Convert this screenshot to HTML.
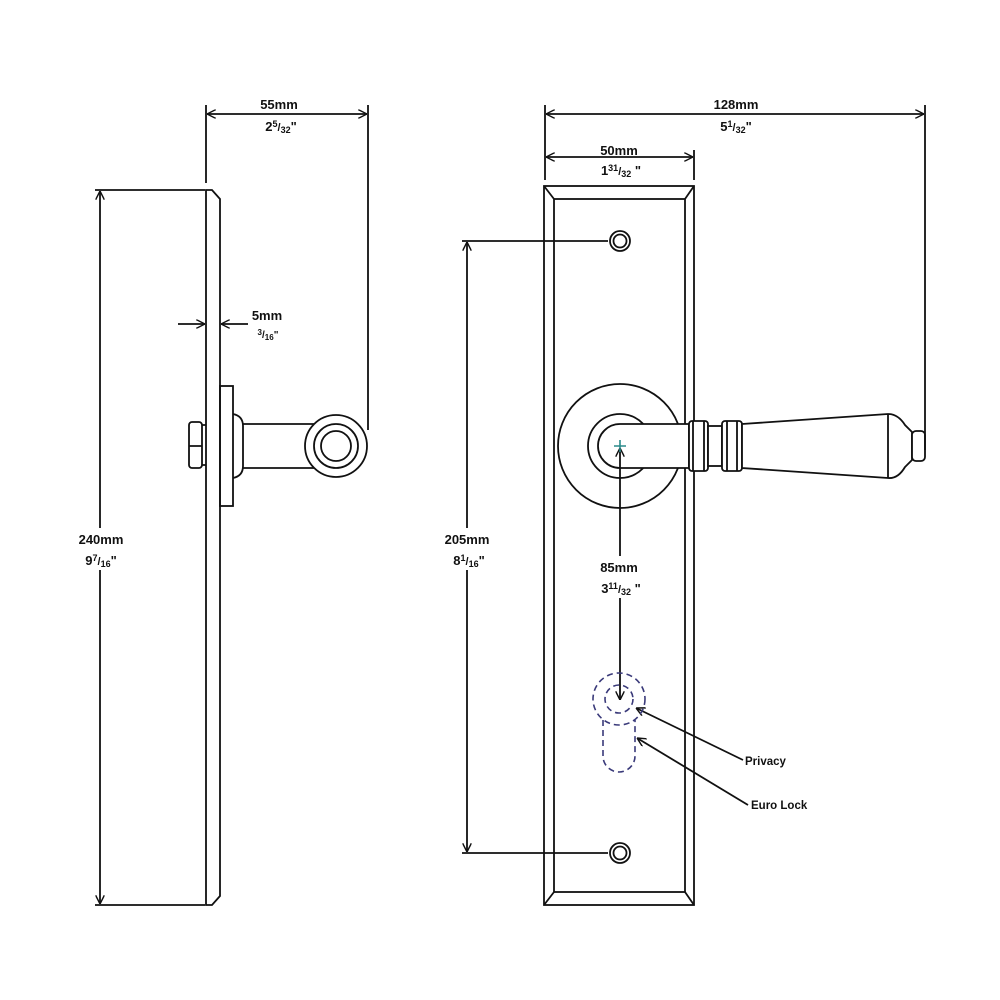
<!DOCTYPE html>
<html><head><meta charset="utf-8"><style>
html,body{margin:0;padding:0;background:#fff}
svg{display:block}
text{font-family:"Liberation Sans",sans-serif;font-weight:bold;fill:#111}
</style></head><body>
<svg width="1000" height="1000" viewBox="0 0 1000 1000" xmlns="http://www.w3.org/2000/svg">
<defs>
<marker id="a" viewBox="0 0 10 10" refX="10" refY="5" markerWidth="9" markerHeight="9" orient="auto-start-reverse" markerUnits="userSpaceOnUse">
<path d="M0,0 L10,5 L0,10" fill="none" stroke="#111" stroke-width="1.6"/></marker>
</defs>
<g fill="none" stroke="#111" stroke-width="1.8">
<path d="M206,190 L212,190 L220,199 L220,896 L212,905 L206,905 Z" fill="#fff"/>
<rect x="220" y="386" width="13" height="120"/>
<path d="M233,414 Q243,416 243,426 L243,466 Q243,476 233,478"/>
<path d="M243,424 L316,424 M243,468 L316,468"/>
<circle cx="336" cy="446" r="31" fill="#fff"/>
<circle cx="336" cy="446" r="22"/>
<circle cx="336" cy="446" r="15"/>
<rect x="189" y="422" width="13" height="46" rx="3"/>
<path d="M189,446 L202,446 M202,425 L206,425 M202,465 L206,465"/>
<path d="M206,105 L206,183 M368,105 L368,430"/>
<path d="M207,114 L367,114" marker-start="url(#a)" marker-end="url(#a)"/>
<path d="M95,190 L205,190 M95,905 L205,905"/>
<path d="M100,191 L100,904" marker-start="url(#a)" marker-end="url(#a)"/>
<path d="M178,324 L205,324" marker-end="url(#a)"/>
<path d="M248,324 L221,324" marker-end="url(#a)"/>
<rect x="544" y="186" width="150" height="719"/>
<rect x="554" y="199" width="131" height="693"/>
<path d="M544,186 L554,199 M694,186 L685,199 M544,905 L554,892 M694,905 L685,892"/>
<circle cx="620" cy="241" r="10"/><circle cx="620" cy="241" r="6.5"/>
<circle cx="620" cy="853" r="10"/><circle cx="620" cy="853" r="6.5"/>
<circle cx="620" cy="446" r="62" fill="#fff"/>
<circle cx="620" cy="446" r="32"/>
<path d="M620,424 L689,424 L689,468 L620,468 A22,22 0 0 1 620,424 Z" fill="#fff"/>
<rect x="689" y="421" width="19" height="50" rx="3" fill="#fff"/>
<path d="M693,421 L693,471 M704,421 L704,471"/>
<rect x="708" y="426" width="14" height="40" fill="#fff"/>
<rect x="722" y="421" width="20" height="50" rx="3" fill="#fff"/>
<path d="M727,421 L727,471 M737,421 L737,471"/>
<path d="M742,424 L888,414 Q898,414 905,425 L912,432 L912,460 L905,467 Q898,479 888,478 L742,468 Z" fill="#fff"/>
<path d="M888,414 L888,478"/>
<rect x="912" y="431" width="13" height="30" rx="4" fill="#fff"/>
<path d="M545,105 L545,180 M925,105 L925,450 M694,150 L694,180 M545,150 L545,180"/>
<path d="M546,114 L924,114" marker-start="url(#a)" marker-end="url(#a)"/>
<path d="M546,157 L693,157" marker-start="url(#a)" marker-end="url(#a)"/>
<path d="M462,241 L608,241 M462,853 L608,853"/>
<path d="M467,242 L467,852" marker-start="url(#a)" marker-end="url(#a)"/>
<path d="M620,448 L620,700" marker-start="url(#a)" marker-end="url(#a)"/>
<path d="M743,760 L636,708" marker-end="url(#a)"/>
<path d="M748,805 L637,738" marker-end="url(#a)"/>
</g>
<path d="M614,446 L626,446 M620,440 L620,452" stroke="#2a8a8a" stroke-width="1.6"/>
<g fill="none" stroke="#3a3a7a" stroke-width="1.6" stroke-dasharray="6,4">
<circle cx="619" cy="699" r="26"/>
<circle cx="619" cy="699" r="14"/>
<path d="M603,720 L603,756 A16,16 0 0 0 635,756 L635,720"/>
</g>
<rect x="70" y="528" width="60" height="42" fill="#fff"/>
<rect x="437" y="528" width="60" height="42" fill="#fff"/>
<rect x="590" y="556" width="60" height="42" fill="#fff"/>
<g font-size="13" text-anchor="middle">
<text x="279" y="109">55mm</text>
<text x="281" y="131">2<tspan font-size="9" dy="-4">5</tspan><tspan font-size="11" dy="4">/</tspan><tspan font-size="9" dy="2">32</tspan><tspan dy="-2">"</tspan></text>
<text x="736" y="109">128mm</text>
<text x="736" y="131">5<tspan font-size="9" dy="-4">1</tspan><tspan font-size="11" dy="4">/</tspan><tspan font-size="9" dy="2">32</tspan><tspan dy="-2">"</tspan></text>
<text x="619" y="155">50mm</text>
<text x="621" y="175">1<tspan font-size="9" dy="-4">31</tspan><tspan font-size="11" dy="4">/</tspan><tspan font-size="9" dy="2">32</tspan><tspan dy="-2"> "</tspan></text>
<text x="267" y="320">5mm</text>
<text x="268" y="338" font-size="10"><tspan font-size="8" dy="-3">3</tspan><tspan dy="3">/</tspan><tspan font-size="8" dy="2">16</tspan><tspan dy="-2">"</tspan></text>
<text x="101" y="544">240mm</text>
<text x="101" y="565">9<tspan font-size="9" dy="-4">7</tspan><tspan font-size="11" dy="4">/</tspan><tspan font-size="9" dy="2">16</tspan><tspan dy="-2">"</tspan></text>
<text x="467" y="544">205mm</text>
<text x="469" y="565">8<tspan font-size="9" dy="-4">1</tspan><tspan font-size="11" dy="4">/</tspan><tspan font-size="9" dy="2">16</tspan><tspan dy="-2">"</tspan></text>
<text x="619" y="572">85mm</text>
<text x="621" y="593">3<tspan font-size="9" dy="-4">11</tspan><tspan font-size="11" dy="4">/</tspan><tspan font-size="9" dy="2">32</tspan><tspan dy="-2"> "</tspan></text>
</g>
<g font-size="11.5">
<text x="745" y="765">Privacy</text>
<text x="751" y="809">Euro Lock</text>
</g>
</svg>
</body></html>
